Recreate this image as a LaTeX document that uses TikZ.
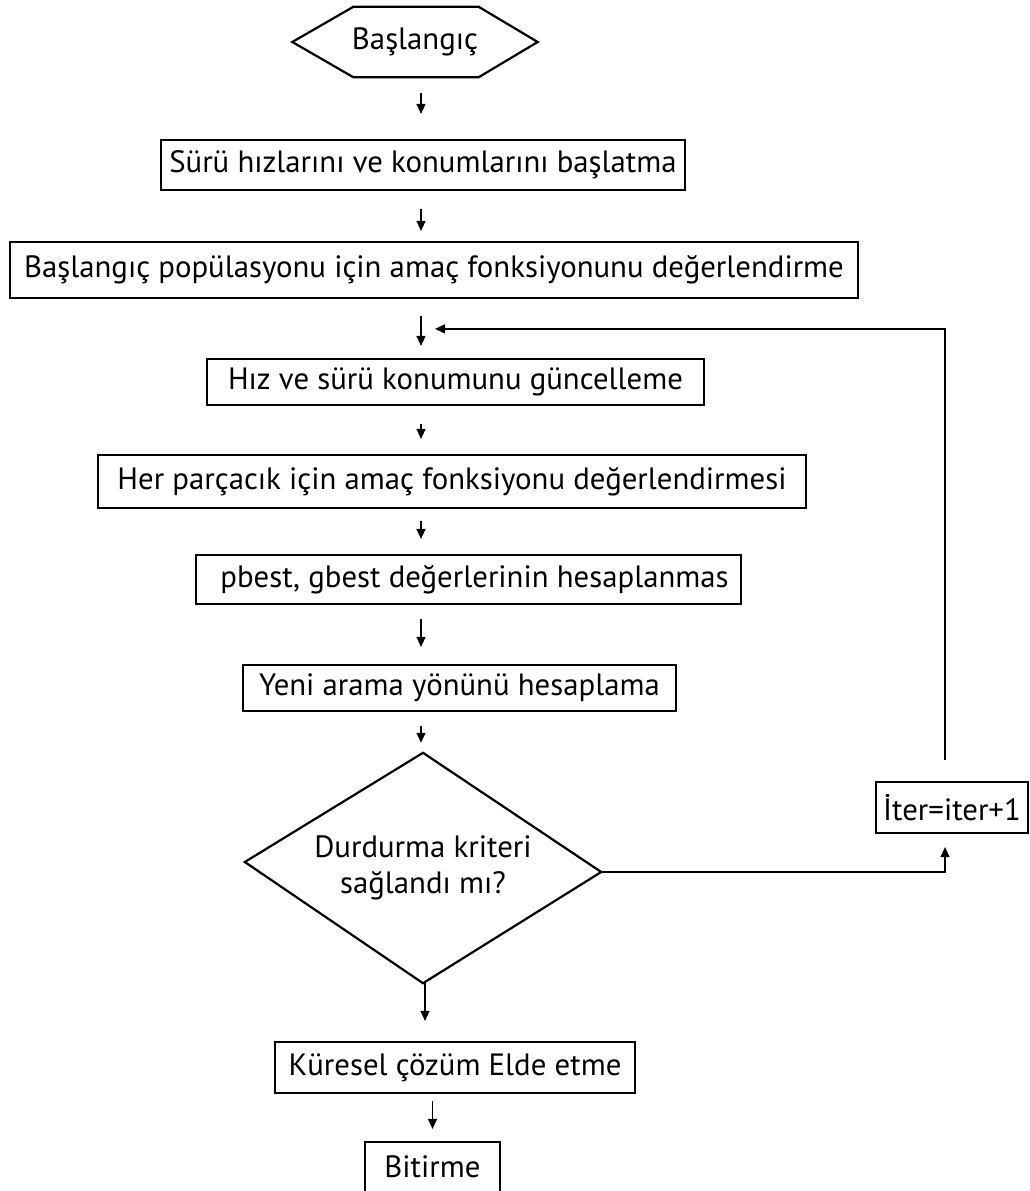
\documentclass[tikz,border=0pt]{standalone}
\usepackage{fontspec}
\setmainfont{PT Sans}
\usetikzlibrary{arrows.meta}
\begin{document}
\begin{tikzpicture}[x=1pt,y=-1pt,
  font=\fontsize{30.8}{36}\selectfont,
  box/.style={draw,line width=2.2pt,inner sep=0pt,align=center},
  arr/.style={line width=1.3pt,-{Triangle[length=10pt,width=9pt]}},
  outline/.style={line width=2.2pt,line join=miter}]
\useasboundingbox (0,0) rectangle (1030,1191);
% start symbol (hexagon drawn round a borderless node)
\node[minimum width=245pt,minimum height=70pt,inner sep=0pt] (start) at (415,42) {Başlangıç};
\draw[outline] (start.west) -- ([xshift=61pt]start.north west) -- ([xshift=-59pt]start.north east)
  -- (start.east) -- ([xshift=-59pt]start.south east) -- ([xshift=61pt]start.south west) -- cycle;
% process steps
\node[box,minimum width=524pt,minimum height=50pt] (b1) at (423,165) {Sürü hızlarını ve konumlarını başlatma};
\node[box,minimum width=848pt,minimum height=56pt] (b2) at (434,270) {Başlangıç popülasyonu için amaç fonksiyonunu değerlendirme};
\node[box,minimum width=497pt,minimum height=46pt] (b3) at (455.5,382) {Hız ve sürü konumunu güncelleme};
\node[box,minimum width=708pt,minimum height=53pt] (b4) at (452,481.5) {Her parçacık için amaç fonksiyonu değerlendirmesi};
\node[box,minimum width=545pt,minimum height=49pt] (b5) at (468.5,579.5) {\hspace*{12pt}pbest, gbest değerlerinin hesaplanmas};
\node[box,minimum width=433pt,minimum height=46pt] (b6) at (459.5,688) {Yeni arama yönünü hesaplama};
% decision (diamond drawn round a borderless node)
\node[minimum width=356pt,minimum height=230pt,inner sep=0pt,align=center] (dec) at (423,868)
  {Durdurma kriteri\\sağlandı mı?};
\draw[outline] (dec.north) -- ([yshift=-4pt]dec.east) -- (dec.south) -- ([yshift=6pt]dec.west) -- cycle;
\node[box,minimum width=152pt,minimum height=51pt] (iter) at (952,807.5) {İter=iter+1};
\node[box,minimum width=360pt,minimum height=51pt] (b7) at (455,1067.5) {Küresel çözüm Elde etme};
\node[box,minimum width=135pt,minimum height=50pt] (b8) at (432.5,1167) {Bitirme};
% axis of the main column and of the loop
\coordinate (spine) at (421,0);
\coordinate (loopx) at (945,0);
% main flow arrows
\draw[arr,shorten <=16pt,shorten >=25pt] (start.south -| spine) -- (b1.north -| spine);
\draw[arr,shorten <=18pt,shorten >=10pt] (b1.south -| spine) -- (b2.north -| spine);
\draw[arr,shorten <=17pt,shorten >=12pt] (b2.south -| spine) -- (b3.north -| spine);
\draw[arr,shorten <=18pt,shorten >=15pt] (b3.south -| spine) -- (b4.north -| spine);
\draw[arr,shorten <=12pt,shorten >=15pt] (b4.south -| spine) -- (b5.north -| spine);
\draw[arr,shorten <=14pt,shorten >=17pt] (b5.south -| spine) -- (b6.north -| spine);
\draw[arr,shorten <=14pt,shorten >=10pt] (b6.south -| spine) -- (dec.north -| spine);
\draw[arr,shorten >=20pt] ([xshift=2pt]dec.south) -- ([xshift=2pt]dec.south |- b7.north);
\draw[arr,shorten <=7pt,shorten >=12pt] (b7.south -| b8.north) -- (b8.north);
% loop back to the update step
\draw[arr] ([yshift=-4pt]dec.east) -- ([yshift=-4pt]dec.east -| loopx) -- ([yshift=-13pt]iter.south -| loopx);
\draw[arr] ([yshift=21pt]iter.north -| loopx) -- ([yshift=29pt]b3.north -| loopx) -- ([xshift=14pt,yshift=29pt]b3.north -| spine);
\end{tikzpicture}
\end{document}
